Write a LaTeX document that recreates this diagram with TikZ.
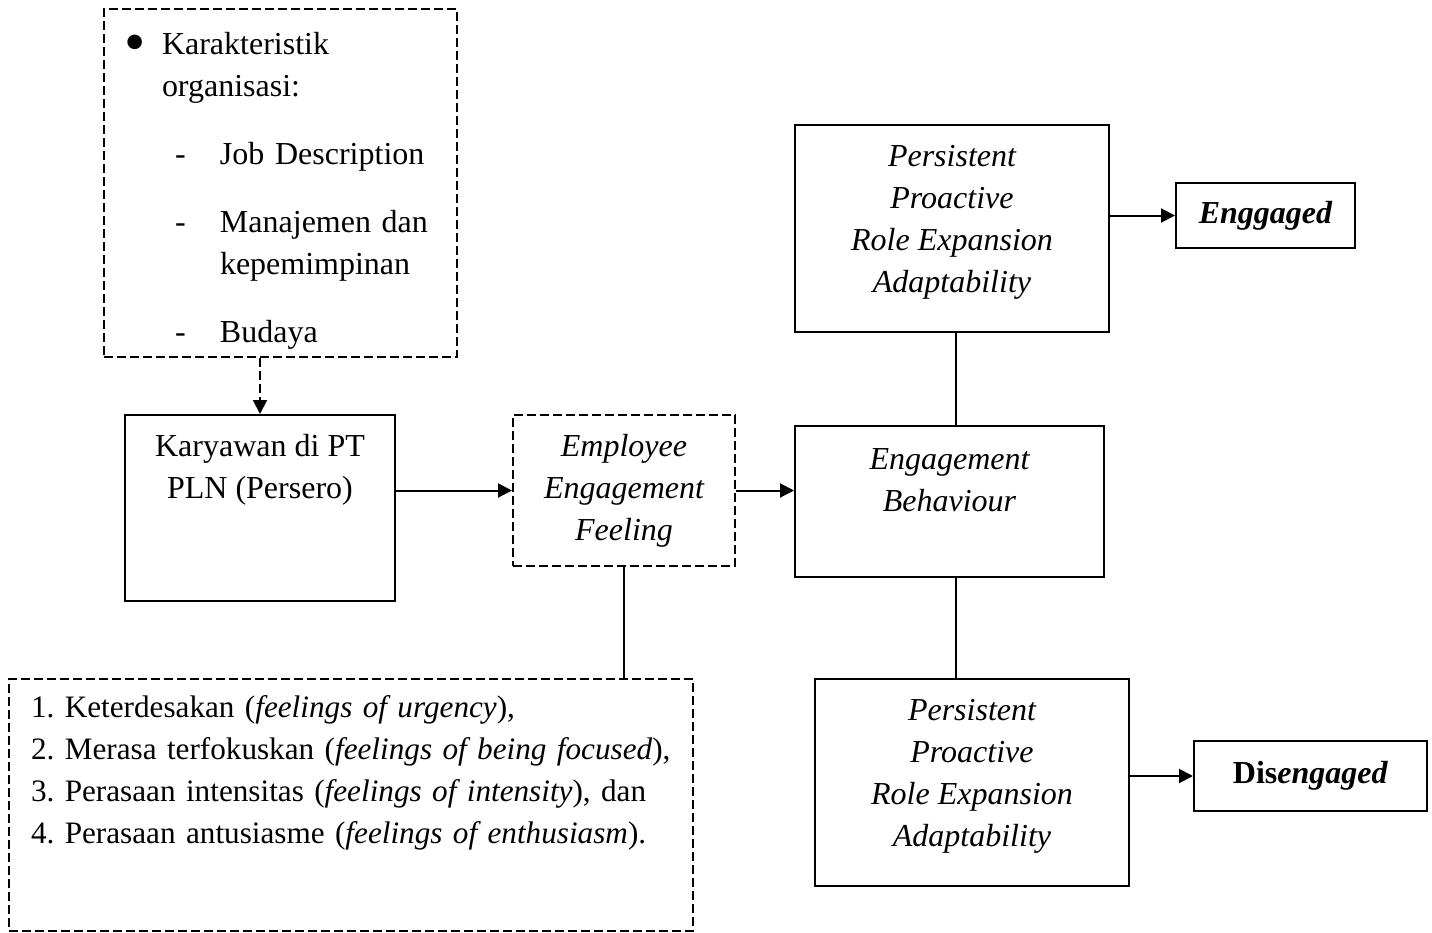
\documentclass[tikz,border=0pt]{standalone}
\usepackage{fontspec}
\setmainfont{Liberation Serif}
\usetikzlibrary{arrows.meta,positioning}
\tikzset{
  solidbox/.style={draw, line width=1pt, align=center, inner sep=0pt,
    font=\fontsize{16pt}{21pt}\selectfont\frenchspacing},
  dashbox/.style={solidbox, dash pattern=on 4.5pt off 2pt},
  arr/.style={-{Triangle[length=7pt,width=7pt]}, line width=1pt},
  dasharr/.style={arr, dash pattern=on 4.5pt off 2pt},
  link/.style={line width=1pt}
}

\begin{document}
\begin{tikzpicture}[x=0.5pt, y=-0.5pt]
        \useasboundingbox (0,0) rectangle (1432,933);
        \node[dashbox, minimum width=176.5pt, minimum height=174pt, text width=165pt, align=left] (orgbox) at (280.5,183)
          {\rule{0pt}{19pt}\hspace*{4.75pt}\makebox[18.5pt][l]{\raisebox{-4pt}{\scalebox{1.9}{\textbullet}}}Karakteristik\\
           \hspace*{23.25pt}organisasi:\\[13pt]
           \hspace*{29.75pt}\makebox[22.5pt][l]{-}Job Description\\[13pt]
           \hspace*{29.75pt}\makebox[22.5pt][l]{-}Manajemen dan\\
           \hspace*{52.25pt}kepemimpinan\\[13pt]
           \hspace*{29.75pt}\makebox[22.5pt][l]{-}Budaya};
        \node[solidbox, minimum width=135pt, minimum height=93pt] (karyawan) at (260,508)
          {Karyawan di PT\\PLN (Persero)\\~\\~};
        \node[dashbox, minimum width=111pt, minimum height=75.5pt] (feeling) at (624,490.5)
          {\itshape Employee\\ \itshape Engagement\\ \itshape Feeling};
        \node[solidbox, minimum width=154.5pt, minimum height=75.5pt] (behaviour) at (949.5,501.5)
          {\itshape Engagement\\ \itshape Behaviour\\~};
        \node[solidbox, minimum width=157pt, minimum height=103.5pt] (persistA) at (952,228.5)
          {\itshape Persistent\\ \itshape Proactive\\ \itshape Role Expansion\\ \itshape Adaptability\\[-11.5pt]~};
        \node[solidbox, minimum width=89.5pt, minimum height=32.5pt, font=\fontsize{16pt}{21pt}\selectfont\bfseries\itshape] (engaged) at (1265.5,215.5) {Enggaged};
        \node[solidbox, minimum width=157pt, minimum height=103.5pt] (persistB) at (972,782.5)
          {\itshape Persistent\\ \itshape Proactive\\ \itshape Role Expansion\\ \itshape Adaptability\\[-11.5pt]~};
        \node[solidbox, minimum width=116.5pt, minimum height=35pt, font=\fontsize{16pt}{21pt}\selectfont\bfseries] (disengaged) at (1310.5,776) {Dis\textit{engaged}};
        \node[dashbox, minimum width=342pt, minimum height=126pt, text width=340pt, align=left,
          font=\fontsize{15.6pt}{21pt}\selectfont\frenchspacing] (indikator) at (351,805)
          {\hspace*{10pt}1. Keterdesakan (\textit{feelings of urgency}),\\
           \hspace*{10pt}2. Merasa terfokuskan (\textit{feelings of being focused}),\\
           \hspace*{10pt}3. Perasaan intensitas (\textit{feelings of intensity}), dan\\
           \hspace*{10pt}4. Perasaan antusiasme (\textit{feelings of enthusiasm}).\\[14pt]~};
        \draw[dasharr] (karyawan.north |- orgbox.south) -- (karyawan.north);
        \draw[arr] (karyawan.east |- feeling.west) -- (feeling.west);
        \draw[arr] (feeling.east) -- (feeling.east -| behaviour.west);
        \draw[link] ([xshift=2pt]persistA.south) -- ([xshift=2pt]persistA.south |- behaviour.north);
        \draw[link] ([xshift=3.25pt]behaviour.south) -- ([xshift=3.25pt]behaviour.south |- persistB.north);
        \draw[arr] (persistA.east |- engaged.west) -- (engaged.west);
        \draw[arr] (persistB.east |- disengaged.west) -- (disengaged.west);
        \draw[link] (feeling.south) -- (feeling.south |- indikator.north);
      \end{tikzpicture}
\end{document}
